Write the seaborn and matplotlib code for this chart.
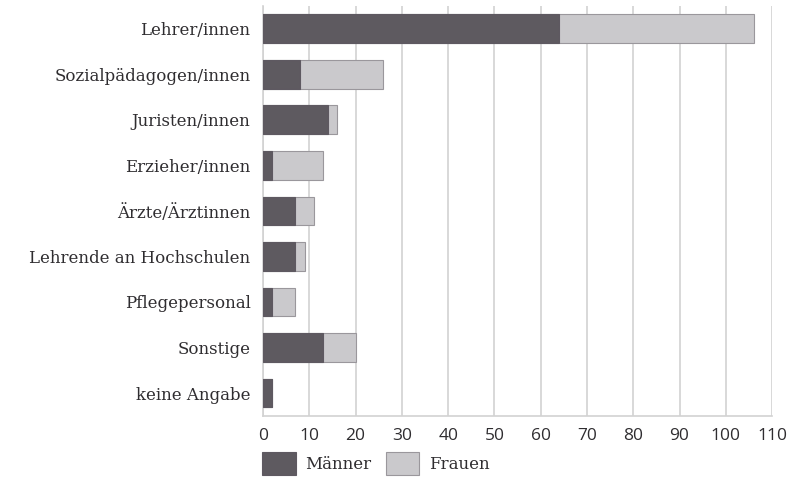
import matplotlib
matplotlib.use('Agg')
import matplotlib.pyplot as plt
import numpy as np
import pandas as pd
import seaborn as sns

# Data
categories = ['Lehrer/innen', 'Sozialpädagogen/innen', 'Juristen/innen',
              'Erzieher/innen', 'Ärzte/Ärztinnen', 'Lehrende an Hochschulen',
              'Pflegepersonal', 'Sonstige', 'keine Angabe']
maenner = [64, 8, 14, 2, 7, 7, 2, 13, 2]
frauen = [42, 18, 2, 11, 4, 2, 5, 7, 0]
x_ticks = list(range(0, 111, 10))

dark = '#5e5961'
light = '#cac8cd'
edge = '#9a979c'
text_col = '#2f2d30'

df = pd.DataFrame({'Kategorie': categories, 'Männer': maenner, 'Frauen': frauen})
df['Gesamt'] = df['Männer'] + df['Frauen']

sns.set_style('white')
plt.rcParams['font.family'] = ['DejaVu Serif']

fig = plt.figure(figsize=(7.88, 4.87), dpi=100)
ax = fig.add_axes([0.3338, 0.146, 0.646, 0.842])

# stacked bars: total (light) underneath, men (dark) on top
sns.barplot(data=df, x='Gesamt', y='Kategorie', color=light, orient='h',
            width=0.63, edgecolor=edge, linewidth=0.8, ax=ax, zorder=3,
            label='Frauen')
sns.barplot(data=df, x='Männer', y='Kategorie', color=dark, orient='h',
            width=0.63, edgecolor=dark, linewidth=0.8, ax=ax, zorder=4,
            label='Männer')

ax.set_xlim(0, 110)
ax.set_ylim(len(categories) - 0.5, -0.5)
ax.set_xticks(x_ticks)
ax.xaxis.grid(True, color='#d2d2d2', linewidth=1.2, zorder=0)
ax.yaxis.grid(False)
ax.set_xlabel('')
ax.set_ylabel('')
for s in ['top', 'right']:
    ax.spines[s].set_visible(False)
ax.spines['left'].set_color('#d2d2d2')
ax.spines['bottom'].set_color('#d2d2d2')
ax.spines['left'].set_linewidth(1.2)
ax.spines['bottom'].set_linewidth(1.2)
ax.tick_params(axis='both', length=0, colors=text_col)
ax.tick_params(axis='y', labelsize=12, pad=9)
ax.tick_params(axis='x', labelsize=12.5, pad=9)
for lbl in ax.get_xticklabels():
    lbl.set_family('Open Sans')

handles, labels = ax.get_legend_handles_labels()
if ax.get_legend() is not None:
    ax.get_legend().remove()
order = [labels.index('Männer'), labels.index('Frauen')]
leg = fig.legend([handles[i] for i in order], [labels[i] for i in order],
                 loc='lower left', bbox_to_anchor=(0.314, -0.007), ncol=2,
                 frameon=False, fontsize=12, handlelength=2.0,
                 handleheight=1.8, handletextpad=0.55, columnspacing=0.9)
for t in leg.get_texts():
    t.set_color(text_col)

fig.savefig('out.png', dpi=100)
